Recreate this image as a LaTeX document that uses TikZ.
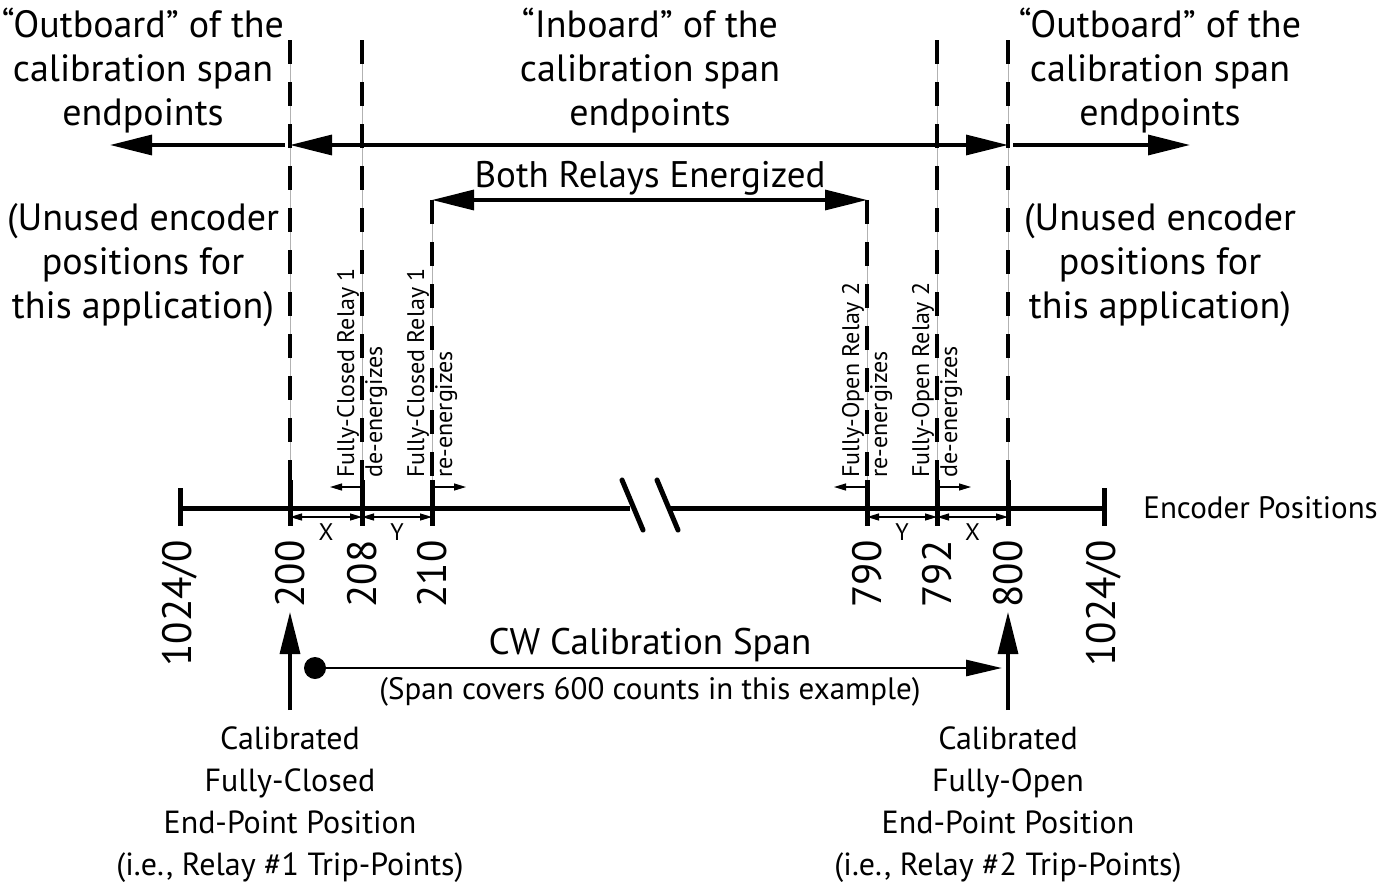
\documentclass[tikz,border=0pt]{standalone}
\usepackage{fontspec}
\setmainfont{PT Sans}
\usetikzlibrary{arrows.meta}

\tikzstyle{heading} = [align=center, inner sep=0pt, font=\fontsize{19}{22}\selectfont]
\tikzstyle{caption} = [align=center, inner sep=0pt, font=\fontsize{16}{21}\selectfont]
\tikzstyle{title} = [inner sep=0pt, font=\fontsize{18.5}{22}\selectfont]
\tikzstyle{small} = [inner sep=0pt, font=\fontsize{15.5}{18}\selectfont]
\tikzstyle{count} = [rotate=90, anchor=east, inner sep=0pt, font=\fontsize{20.5}{22}\selectfont]
\tikzstyle{event} = [rotate=90, anchor=west, align=left, inner sep=0pt, font=\fontsize{12}{14}\selectfont]
\tikzstyle{dimlabel} = [inner sep=0pt, font=\fontsize{12}{12}\selectfont]
\tikzstyle{guide} = [gray!60, line width=0.4pt]
\tikzstyle{dashes} = [line width=2pt, dash pattern=on 12pt off 9pt]
\tikzstyle{tick} = [line width=2.5pt]
\tikzstyle{bigarrow} = [line width=1.6pt, -{Triangle[length=21pt,width=10pt]}]
\tikzstyle{bothends} = [line width=1.6pt, {Triangle[length=21pt,width=10pt]}-{Triangle[length=21pt,width=10pt]}]
\tikzstyle{dim} = [line width=0.6pt, {Triangle[length=6pt,width=3.5pt]}-{Triangle[length=6pt,width=3.5pt]}]
\tikzstyle{nudge} = [line width=0.6pt, -{Triangle[length=6pt,width=3.5pt]}]

\begin{document}
\begin{tikzpicture}[x=0.5pt, y=-0.5pt]
\useasboundingbox (0,0) rectangle (1395,884);

\foreach \n/\x in {200/290, 208/362, 210/432, 790/867, 792/937, 800/1008} {
    \coordinate (p\n) at (\x,508);
    \coordinate (b\n) at (\x,526);
    \coordinate (k\n) at (\x,480);
}
\coordinate (t200) at (290,40);
\coordinate (t208) at (362,40);
\coordinate (t210) at (432,200);
\coordinate (t790) at (867,200);
\coordinate (t792) at (937,40);
\coordinate (t800) at (1008,40);

\coordinate (lend) at (180,508);
\coordinate (rend) at (1104,508);
\coordinate (cutl) at (630,508);
\coordinate (cutr) at (668,508);

\foreach \n in {200,208,210,790,792,800} {
    \draw[guide] (t\n) -- (k\n);
    \draw[dashes] (t\n) -- (k\n);
    \draw[tick] (k\n) -- (b\n);
}

\draw[tick] (lend) -- (cutl);
\draw[tick] (cutr) -- (rend);
\draw[tick] (180,488) -- (180,526);
\draw[tick] (1104,488) -- (1104,526);
\draw[line width=2.5pt, line cap=round] (622,480) -- (643,530);
\draw[line width=2.5pt, line cap=round] (657,480) -- (678,530);

\node[small, anchor=west] (encoder) at (1143,508) {Encoder Positions};

\node[count] (c0l) at (180,540) {1024/0};
\node[count] (c200) at (290,540) {200};
\node[count] (c208) at (362,540) {208};
\node[count] (c210) at (432,540) {210};
\node[count] (c790) at (867,540) {790};
\node[count] (c792) at (937,540) {792};
\node[count] (c800) at (1008,540) {800};
\node[count] (c0r) at (1104,540) {1024/0};

\draw[dim] (290,517) -- node[dimlabel, below=3pt] {X} (362,517);
\draw[dim] (362,517) -- node[dimlabel, below=3pt] {Y} (432,517);
\draw[dim] (867,517) -- node[dimlabel, below=3pt] {Y} (937,517);
\draw[dim] (937,517) -- node[dimlabel, below=3pt] {X} (1008,517);

\coordinate (n208) at (330,487);
\coordinate (n210) at (466,487);
\coordinate (n790) at (834,487);
\coordinate (n792) at (971,487);
\draw[nudge] (p208 |- n208) -- (n208);
\draw[nudge] (p210 |- n210) -- (n210);
\draw[nudge] (p790 |- n790) -- (n790);
\draw[nudge] (p792 |- n792) -- (n792);

\node[event] (e208) at (362,478) {Fully-Closed Relay 1\\de-energizes};
\node[event] (e210) at (432,478) {Fully-Closed Relay 1\\re-energizes};
\node[event] (e790) at (867,478) {Fully-Open Relay 2\\re-energizes};
\node[event] (e792) at (937,478) {Fully-Open Relay 2\\de-energizes};

\node[heading] (outl) at (143,71) {``Outboard'' of the\\calibration span\\endpoints};
\node[heading] (inb) at (650,71) {``Inboard'' of the\\calibration span\\endpoints};
\node[heading] (outr) at (1160,71) {``Outboard'' of the\\calibration span\\endpoints};
\node[heading] (unusedl) at (143,265) {(Unused encoder\\positions for\\this application)};
\node[heading] (unusedr) at (1160,265) {(Unused encoder\\positions for\\this application)};

\coordinate (al) at (110,145);
\coordinate (ar) at (1190,145);
\draw[bigarrow] (285,145) -- (al);
\draw[bigarrow] (1013,145) -- (ar);
\draw[bothends] (p200 |- al) -- (p800 |- al);

\node[title] (both) at (650,178) {Both Relays Energized};
\draw[bothends] (t210) -- (t790);

\coordinate (u200) at (290,710);
\coordinate (u800) at (1008,710);
\draw[bigarrow] (u200) -- (290,612);
\draw[bigarrow] (u800) -- (1008,612);

\coordinate (cwstart) at (315,668);
\coordinate (cwend) at (1002,668);
\fill (cwstart) circle (5.5pt);
\draw[line width=1.4pt, -{Triangle[length=18pt,width=8pt]}] (cwstart) -- (cwend);
\node[title] (cw) at (650,645) {CW Calibration Span};
\node[small] (cwnote) at (650,692) {(Span covers 600 counts in this example)};

\node[caption] (closed) at (290,805) {Calibrated\\Fully-Closed\\End-Point Position\\(i.e., Relay \#1 Trip-Points)};
\node[caption] (open) at (1008,805) {Calibrated\\Fully-Open\\End-Point Position\\(i.e., Relay \#2 Trip-Points)};
\end{tikzpicture}
\end{document}
